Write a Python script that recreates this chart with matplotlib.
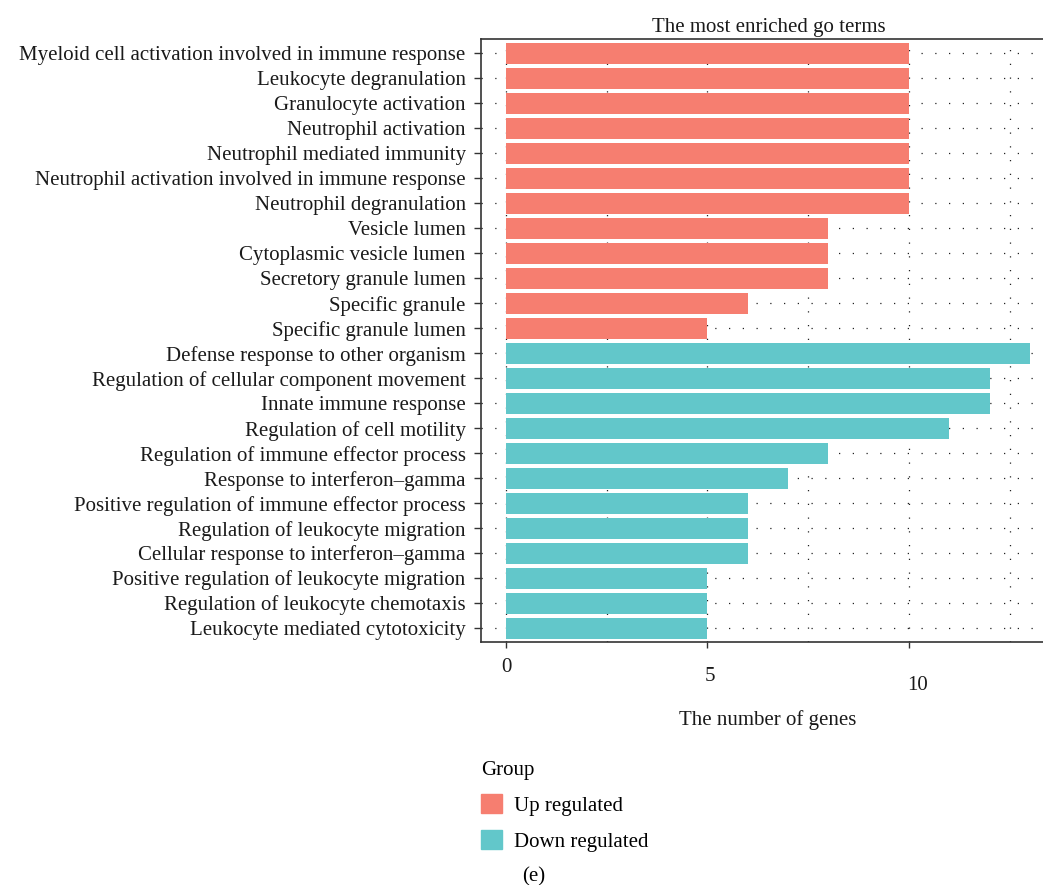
import matplotlib
matplotlib.use("Agg")
import matplotlib.pyplot as plt
from matplotlib.patches import Patch
from matplotlib.transforms import ScaledTranslation

# GO terms, top to bottom as drawn
up_terms = ["Myeloid cell activation involved in immune response",
            "Leukocyte degranulation",
            "Granulocyte activation",
            "Neutrophil activation",
            "Neutrophil mediated immunity",
            "Neutrophil activation involved in immune response",
            "Neutrophil degranulation",
            "Vesicle lumen",
            "Cytoplasmic vesicle lumen",
            "Secretory granule lumen",
            "Specific granule",
            "Specific granule lumen"]
up_counts = [10, 10, 10, 10, 10, 10, 10, 8, 8, 8, 6, 5]

down_terms = ["Defense response to other organism",
              "Regulation of cellular component movement",
              "Innate immune response",
              "Regulation of cell motility",
              "Regulation of immune effector process",
              "Response to interferon\u2013gamma",
              "Positive regulation of immune effector process",
              "Regulation of leukocyte migration",
              "Cellular response to interferon\u2013gamma",
              "Positive regulation of leukocyte migration",
              "Regulation of leukocyte chemotaxis",
              "Leukocyte mediated cytotoxicity"]
down_counts = [13, 12, 12, 11, 8, 7, 6, 6, 6, 5, 5, 5]

x_ticks = [0, 5, 10]
UP_COL, DOWN_COL = "#F67E70", "#62C7CA"
FS = 15

plt.rcParams["font.family"] = ["Liberation Serif", "DejaVu Serif"]
plt.rcParams["font.size"] = FS

fig = plt.figure(figsize=(10.43, 8.85), dpi=100)
W, H = 1043, 885
ax = fig.add_axes([481 / W, 1 - 642 / H, (1056 - 481) / W, (642 - 38.5) / H])

terms = up_terms + down_terms
counts = up_counts + down_counts
colors = [UP_COL] * len(up_terms) + [DOWN_COL] * len(down_terms)
ypos = list(range(len(terms)))[::-1]

# dotted grid
dot = (0, (1, 10))
for gx in [0, 2.5, 5, 7.5, 10, 12.5]:
    ax.axvline(gx, color="#222222", lw=0.9, ls=dot, zorder=0)
for gy in ypos:
    ax.axhline(gy, color="#222222", lw=0.9, ls=dot, zorder=0)

ax.barh(ypos, counts, height=0.84, color=colors, zorder=2)

ax.set_ylim(-0.56, len(terms) - 0.41)
ax.set_xlim(-0.62, 13.65)
ax.set_yticks(ypos)
ax.set_yticklabels(terms)
ax.set_xticks(x_ticks)
ax.set_xticklabels([str(t) for t in x_ticks])
ax.tick_params(axis="y", length=5, width=1, pad=6, colors="#333333", labelcolor="#1a1a1a")
ax.tick_params(axis="x", length=4.3, width=1, pad=7, colors="#333333", labelcolor="#1a1a1a")
for s in ["left", "bottom", "top"]:
    ax.spines[s].set_linewidth(1.2)
    ax.spines[s].set_color("#333333")
ax.spines["right"].set_visible(False)

# staggered x tick labels as in the reference
for lab, (dx, dy) in zip(ax.get_xticklabels(), [(0, 0), (2, 9.5), (8.5, 18.5)]):
    lab.set_transform(lab.get_transform() + ScaledTranslation(dx / 100, -dy / 100, fig.dpi_scale_trans))

ax.set_title("The most enriched go terms", fontsize=FS, pad=5, color="#1a1a1a")
fig.text(768 / W, 1 - 720 / H, "The number of genes", ha="center", va="center", color="#1a1a1a")

handles = [Patch(color=UP_COL), Patch(color=DOWN_COL)]
leg = fig.legend(handles, ["Up regulated", "Down regulated"], title="Group",
                 loc="upper left", bbox_to_anchor=(462 / W, 1 - 742 / H),
                 frameon=False, fontsize=FS, title_fontsize=FS,
                 handlelength=1.0, handleheight=1.0, labelspacing=0.7,
                 handletextpad=0.6)
leg._legend_box.align = "left"

fig.text(534 / W, 1 - 877 / H, "(e)", ha="center", va="center")

fig.savefig("out.png", dpi=100)
